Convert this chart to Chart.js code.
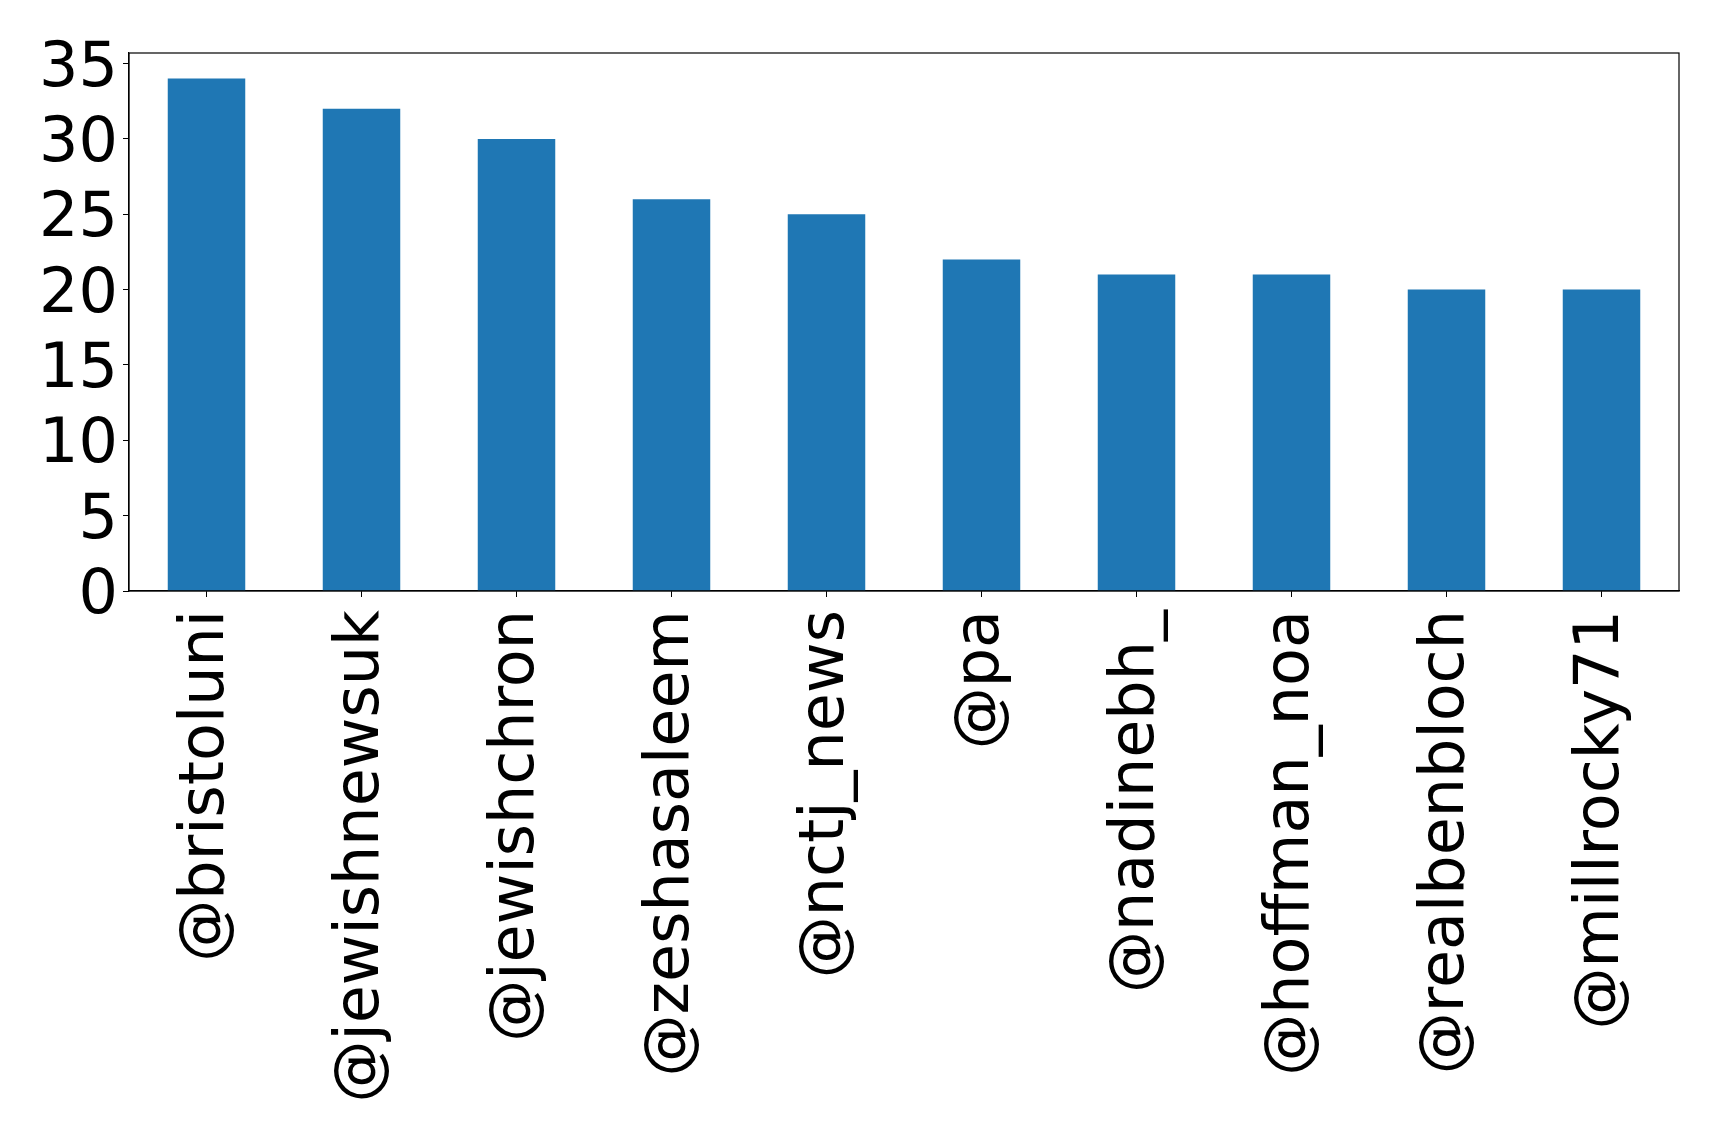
<!DOCTYPE html>
<html>
<head>
<meta charset="utf-8">
<script src="https://cdn.jsdelivr.net/npm/chart.js@4/dist/chart.umd.min.js"></script>
<style>
  html, body { margin: 0; padding: 0; background: #fff; }
  #wrap { width: 1719px; height: 1137px; }
</style>
</head>
<body>
<div id="wrap"><canvas id="myChart"></canvas></div>
<script>
// data
const accounts = ['@bristoluni', '@jewishnewsuk', '@jewishchron', '@zeshasaleem', '@nctj_news',
                  '@pa', '@nadinebh_', '@hoffman_noa', '@realbenbloch', '@millrocky71'];
const counts = [34, 32, 30, 26, 25, 22, 21, 21, 20, 20];
const yTicks = [0, 5, 10, 15, 20, 25, 30, 35];
const yMax = 35.7;

const fontFamily = '"DejaVu Sans", sans-serif';

// draw the top and right sides of the frame too
const frameBox = {
    id: 'frameBox',
    afterDraw(chart) {
        const { ctx, chartArea: a } = chart;
        ctx.save();
        ctx.strokeStyle = 'black';
        ctx.lineWidth = 1.2;
        ctx.strokeRect(a.left, a.top, a.right - a.left, a.bottom - a.top);
        ctx.restore();
    }
};

const ctx = document.getElementById('myChart').getContext('2d');
const myChart = new Chart(ctx, {
    type: 'bar',
    data: {
        labels: accounts,
        datasets: [{
            data: counts,
            backgroundColor: '#1f77b4',
            borderWidth: 0,
            barPercentage: 0.5,
            categoryPercentage: 1.0
        }]
    },
    options: {
        responsive: true,
        maintainAspectRatio: false,
        animation: false,
        layout: {
            padding: { left: 0, right: 40, top: 53, bottom: 0 }
        },
        plugins: {
            legend: { display: false },
            tooltip: { enabled: false }
        },
        scales: {
            x: {
                offset: true,
                grid: {
                    drawOnChartArea: false,
                    color: 'black',
                    tickLength: 6,
                    offset: false
                },
                border: { display: true, color: 'black', width: 1.2 },
                ticks: {
                    color: 'black',
                    font: { family: fontFamily, size: 62 },
                    maxRotation: 90,
                    minRotation: 90,
                    autoSkip: false,
                    padding: 13
                },
                afterFit: (axis) => { axis.height = 546; }
            },
            y: {
                min: 0,
                max: yMax,
                grid: {
                    drawOnChartArea: false,
                    color: 'black',
                    tickLength: 6
                },
                border: { display: true, color: 'black', width: 1.2 },
                ticks: {
                    color: 'black',
                    font: { family: fontFamily, size: 62 },
                    padding: 5,
                    labelOffset: 6,
                    autoSkip: false
                },
                afterBuildTicks: (axis) => {
                    axis.ticks = yTicks.map(v => ({ value: v }));
                },
                afterFit: (axis) => { axis.width = 129; }
            }
        }
    },
    plugins: [frameBox]
});
</script>
</body>
</html>
